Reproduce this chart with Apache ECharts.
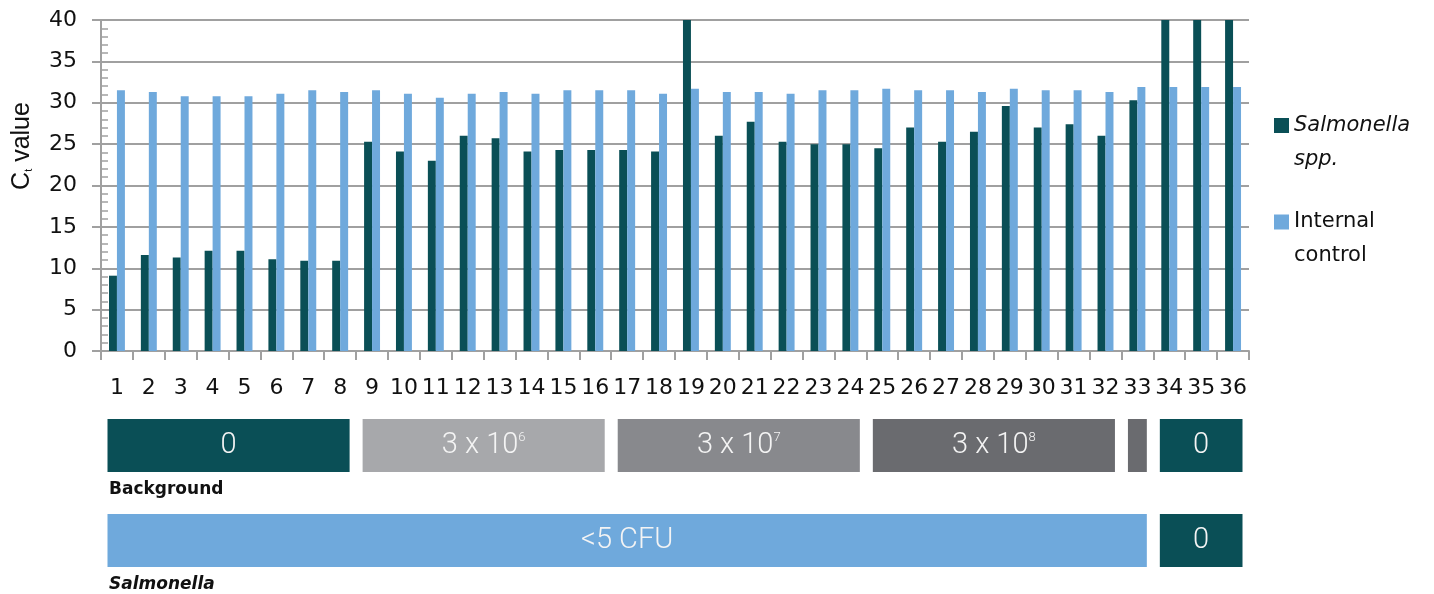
<!DOCTYPE html>
<html>
<head>
<meta charset="utf-8">
<script src="https://cdn.jsdelivr.net/npm/echarts@6.0.0/dist/echarts.min.js"></script>
<style>
  html, body { margin: 0; padding: 0; background: #fff; }
  #chart { width: 1434px; height: 594px; }
</style>
</head>
<body>
<div id="chart"></div>
<script>
const categories = ['1', '2', '3', '4', '5', '6', '7', '8', '9', '10', '11', '12',
  '13', '14', '15', '16', '17', '18', '19', '20', '21', '22', '23', '24',
  '25', '26', '27', '28', '29', '30', '31', '32', '33', '34', '35', '36'];
const salmonella = [9.1, 11.6, 11.3, 12.1, 12.1, 11.1, 10.9, 10.9, 25.3, 24.1, 23.0, 26.0,
  25.7, 24.1, 24.3, 24.3, 24.3, 24.1, 40, 26.0, 27.7, 25.3, 25.0, 25.0,
  24.5, 27.0, 25.3, 26.5, 29.6, 27.0, 27.4, 26.0, 30.3, 40, 40, 40];
const internalControl = [31.5, 31.3, 30.8, 30.8, 30.8, 31.1, 31.5, 31.3, 31.5, 31.1, 30.6, 31.1,
  31.3, 31.1, 31.5, 31.5, 31.5, 31.1, 31.7, 31.3, 31.3, 31.1, 31.5, 31.5,
  31.7, 31.5, 31.5, 31.3, 31.7, 31.5, 31.5, 31.3, 31.9, 31.9, 31.9, 31.9];
const yTicks = { min: 0, max: 40, interval: 5 };

// sample groups below the chart (sample numbers, inclusive)
const backgroundRanges = [[1, 8], [9, 16], [17, 24], [25, 32], [33, 33], [34, 36]];
const backgroundLabels = ['0', '3 x 10^6', '3 x 10^7', '3 x 10^8', '', '0'];
const salmonellaRanges = [[1, 33], [34, 36]];
const salmonellaLabels = ['<5 CFU', '0'];

const TEAL = '#0a4f56';
const BLUE = '#6fa9dc';
const GRID = '#a0a0a0';
const backgroundColors = [TEAL, '#a7a8ab', '#88898d', '#6a6b6f', '#6a6b6f', TEAL];
const salmonellaColors = [BLUE, TEAL];
const FONT = 'DejaVu Sans';
const BOX_FONT = 'Roboto';

function boxText(label) {
  const parts = label.split('^');
  return parts.length > 1 ? '{n|' + parts[0] + '}{sup|' + parts[1] + '}' : '{n|' + label + '}';
}

const boxData = [];
backgroundRanges.forEach((r, i) => {
  boxData.push({ value: [r[0] - 1, r[1] - 1, 0], label: backgroundLabels[i], color: backgroundColors[i] });
});
salmonellaRanges.forEach((r, i) => {
  boxData.push({ value: [r[0] - 1, r[1] - 1, 1], label: salmonellaLabels[i], color: salmonellaColors[i] });
});

function renderBox(params, api) {
  const item = boxData[params.dataIndex];
  const band = api.size([1, 0])[0];
  const a = api.coord([api.value(0), api.value(2)]);
  const b = api.coord([api.value(1), api.value(2)]);
  const inset = 6.5;
  const x = a[0] - band / 2 + inset;
  const w = b[0] + band / 2 - inset - x;
  return {
    type: 'rect',
    shape: { x: x, y: a[1], width: w, height: 53 },
    style: { fill: item.color },
    textContent: {
      style: {
        text: item.label ? boxText(item.label) : '',
        rich: {
          n: { fontFamily: BOX_FONT, fontSize: 29, fontWeight: 300, fill: '#f4f4f4' },
          sup: { fontFamily: BOX_FONT, fontSize: 13, fontWeight: 300, fill: '#f4f4f4', verticalAlign: 'top', padding: [0, 0, 12, 0] }
        }
      }
    },
    textConfig: { position: 'inside' }
  };
}

const chart = echarts.init(document.getElementById('chart'));
chart.setOption({
  animation: false,
  grid: [
    { left: 101, right: 185, top: 20, bottom: 243, outerBoundsMode: 'none' },
    { left: 101, right: 185, top: 419, height: 190, outerBoundsMode: 'none' }
  ],
  legend: {
    orient: 'vertical',
    left: 1274,
    top: 74.5,
    padding: 0,
    itemGap: -5.5,
    itemWidth: 15,
    itemHeight: 15,
    icon: 'rect',
    data: ['Salmonella spp.', 'Internal control'],
    formatter: function (name) {
      return name === 'Salmonella spp.' ? '{i|Salmonella}\n{i|spp.}' : '{r|Internal}\n{r|control}';
    },
    textStyle: {
      padding: [34, 0, 0, 0],
      lineHeight: 34,
      rich: {
        i: { fontFamily: FONT, fontSize: 21, fontStyle: 'italic', color: '#111', lineHeight: 34 },
        r: { fontFamily: FONT, fontSize: 21, color: '#111', lineHeight: 34 }
      }
    }
  },
  xAxis: [
    {
      type: 'category',
      data: categories,
      gridIndex: 0,
      axisLine: { lineStyle: { color: GRID, width: 2 } },
      axisTick: { show: true, interval: 0, length: 9, lineStyle: { color: GRID, width: 2 } },
      axisLabel: { interval: 0, margin: 26, fontFamily: FONT, fontSize: 22, color: '#111' }
    },
    { type: 'category', data: categories, gridIndex: 1, show: false }
  ],
  yAxis: [
    {
      type: 'value',
      gridIndex: 0,
      min: yTicks.min,
      max: yTicks.max,
      interval: yTicks.interval,
      axisLine: { show: true, lineStyle: { color: GRID, width: 2 } },
      axisTick: { show: true, length: 9, lineStyle: { color: GRID, width: 2 } },
      minorTick: { show: true, splitNumber: 5, length: -7, lineStyle: { color: GRID, width: 1.5 } },
      splitLine: { lineStyle: { color: GRID, width: 2 } },
      axisLabel: { margin: 24, fontFamily: FONT, fontSize: 22, color: '#111' }
    },
    { type: 'value', gridIndex: 1, min: 0, max: 2, inverse: true, show: false }
  ],
  graphic: [
    {
      type: 'text',
      x: 22,
      y: 146,
      rotation: Math.PI / 2,
      style: {
        text: '{c|C}{t|t}{c| value}',
        align: 'center',
        verticalAlign: 'middle',
        rich: {
          c: { fontFamily: 'Liberation Sans', fontSize: 25, fill: '#111' },
          t: { fontFamily: 'Liberation Sans', fontSize: 11, fill: '#111', verticalAlign: 'bottom' }
        }
      }
    },
    {
      type: 'text',
      x: 109,
      y: 481,
      style: { text: 'Background', fontFamily: FONT, fontSize: 17, fontWeight: 'bold', fill: '#111' }
    },
    {
      type: 'text',
      x: 109,
      y: 576,
      style: { text: 'Salmonella', fontFamily: FONT, fontSize: 17, fontWeight: 'bold', fontStyle: 'italic', fill: '#111' }
    }
  ],
  series: [
    {
      name: 'Salmonella spp.',
      type: 'bar',
      data: salmonella,
      barGap: '0%',
      barCategoryGap: '50%',
      itemStyle: { color: TEAL }
    },
    {
      name: 'Internal control',
      type: 'bar',
      data: internalControl,
      barGap: '0%',
      barCategoryGap: '50%',
      itemStyle: { color: BLUE }
    },
    {
      type: 'custom',
      xAxisIndex: 1,
      yAxisIndex: 1,
      renderItem: renderBox,
      encode: { x: [0, 1], y: 2 },
      data: boxData.map(d => d.value),
      silent: true
    }
  ]
});
</script>
</body>
</html>
